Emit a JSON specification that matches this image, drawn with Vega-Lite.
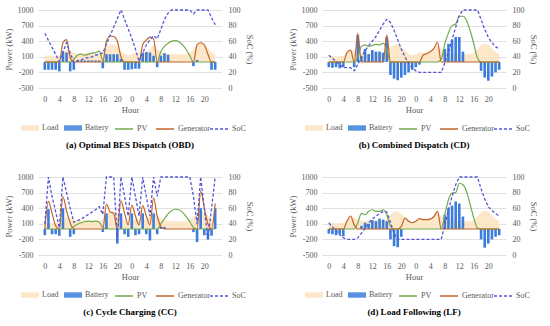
{
  "$schema": "https://vega.github.io/schema/vega-lite/v6.json",
  "padding": {"left": 4, "top": 6, "right": 0, "bottom": 0},
  "datasets": {
    "load": [
      {"h":0,"L":130},{"h":1,"L":120},{"h":2,"L":110},{"h":3,"L":110},{"h":4,"L":120},{"h":5,"L":170},{"h":6,"L":240},{"h":7,"L":220},
      {"h":8,"L":180},{"h":9,"L":160},{"h":10,"L":160},{"h":11,"L":170},{"h":12,"L":170},{"h":13,"L":170},{"h":14,"L":160},{"h":15,"L":160},
      {"h":16,"L":180},{"h":17,"L":280},{"h":18,"L":330},{"h":19,"L":340},{"h":20,"L":300},{"h":21,"L":220},{"h":22,"L":160},{"h":23,"L":130},
      {"h":24,"L":150},{"h":25,"L":190},{"h":26,"L":180},{"h":27,"L":180},{"h":28,"L":190},{"h":29,"L":240},{"h":30,"L":340},{"h":31,"L":250},
      {"h":32,"L":200},{"h":33,"L":170},{"h":34,"L":160},{"h":35,"L":150},{"h":36,"L":150},{"h":37,"L":150},{"h":38,"L":150},{"h":39,"L":150},
      {"h":40,"L":170},{"h":41,"L":240},{"h":42,"L":320},{"h":43,"L":360},{"h":44,"L":330},{"h":45,"L":260},{"h":46,"L":190},{"h":47,"L":150}
    ],
    "a": [
      {"h":0,"B":-150,"V":0,"G":0,"S":70},{"h":1,"B":-150,"V":0,"G":0,"S":61},{"h":2,"B":-150,"V":0,"G":0,"S":52},{"h":3,"B":-150,"V":0,"G":0,"S":43},
      {"h":4,"B":-180,"V":0,"G":0,"S":34},{"h":5,"B":200,"V":0,"G":370,"S":46},{"h":6,"B":180,"V":0,"G":430,"S":58},{"h":7,"B":-180,"V":0,"G":80,"S":45},
      {"h":8,"B":-150,"V":50,"G":0,"S":33},{"h":9,"B":20,"V":130,"G":0,"S":35},{"h":10,"B":30,"V":150,"G":0,"S":36},{"h":11,"B":30,"V":130,"G":0,"S":38},
      {"h":12,"B":30,"V":150,"G":0,"S":39},{"h":13,"B":30,"V":170,"G":0,"S":40},{"h":14,"B":30,"V":180,"G":0,"S":42},{"h":15,"B":30,"V":210,"G":0,"S":43},
      {"h":16,"B":-120,"V":30,"G":0,"S":45},{"h":17,"B":150,"V":0,"G":400,"S":56},{"h":18,"B":150,"V":0,"G":500,"S":67},{"h":19,"B":150,"V":0,"G":490,"S":78},
      {"h":20,"B":150,"V":0,"G":400,"S":89},{"h":21,"B":60,"V":0,"G":100,"S":100},{"h":22,"B":-150,"V":0,"G":0,"S":88},{"h":23,"B":-150,"V":0,"G":0,"S":76},
      {"h":24,"B":-140,"V":0,"G":0,"S":64},{"h":25,"B":-130,"V":0,"G":0,"S":50},{"h":26,"B":-130,"V":0,"G":0,"S":34},{"h":27,"B":180,"V":0,"G":330,"S":45},
      {"h":28,"B":190,"V":0,"G":420,"S":55},{"h":29,"B":180,"V":0,"G":480,"S":62},{"h":30,"B":120,"V":0,"G":450,"S":67},{"h":31,"B":-100,"V":0,"G":0,"S":63},
      {"h":32,"B":120,"V":200,"G":0,"S":75},{"h":33,"B":170,"V":300,"G":0,"S":88},{"h":34,"B":140,"V":360,"G":0,"S":96},{"h":35,"B":0,"V":400,"G":0,"S":100},
      {"h":36,"B":0,"V":410,"G":0,"S":100},{"h":37,"B":0,"V":390,"G":0,"S":100},{"h":38,"B":0,"V":330,"G":0,"S":100},{"h":39,"B":0,"V":240,"G":0,"S":100},
      {"h":40,"B":0,"V":120,"G":0,"S":100},{"h":41,"B":-80,"V":0,"G":0,"S":95},{"h":42,"B":40,"V":0,"G":330,"S":100},{"h":43,"B":0,"V":0,"G":370,"S":100},
      {"h":44,"B":0,"V":0,"G":330,"S":100},{"h":45,"B":0,"V":0,"G":150,"S":100},{"h":46,"B":-150,"V":0,"G":0,"S":90},{"h":47,"B":-150,"V":0,"G":0,"S":81}
    ],
    "b": [
      {"h":0,"B":-100,"V":0,"G":0,"S":42},{"h":1,"B":-110,"V":0,"G":0,"S":38},{"h":2,"B":-100,"V":0,"G":0,"S":34},{"h":3,"B":-120,"V":0,"G":0,"S":30},
      {"h":4,"B":-100,"V":0,"G":0,"S":26},{"h":5,"B":0,"V":0,"G":180,"S":26},{"h":6,"B":0,"V":0,"G":230,"S":26},{"h":7,"B":-100,"V":0,"G":0,"S":22},
      {"h":8,"B":520,"V":100,"G":550,"S":30},{"h":9,"B":100,"V":300,"G":0,"S":40},{"h":10,"B":250,"V":330,"G":0,"S":48},{"h":11,"B":150,"V":300,"G":0,"S":54},
      {"h":12,"B":230,"V":320,"G":0,"S":60},{"h":13,"B":200,"V":340,"G":0,"S":66},{"h":14,"B":200,"V":330,"G":0,"S":74},{"h":15,"B":180,"V":360,"G":0,"S":82},
      {"h":16,"B":480,"V":250,"G":520,"S":88},{"h":17,"B":-250,"V":0,"G":0,"S":84},{"h":18,"B":-320,"V":0,"G":0,"S":74},{"h":19,"B":-350,"V":0,"G":0,"S":62},
      {"h":20,"B":-300,"V":0,"G":0,"S":50},{"h":21,"B":-250,"V":0,"G":0,"S":40},{"h":22,"B":-200,"V":0,"G":0,"S":32},{"h":23,"B":-150,"V":0,"G":0,"S":26},
      {"h":24,"B":-100,"V":0,"G":0,"S":22},{"h":25,"B":-50,"V":0,"G":0,"S":20},{"h":26,"B":0,"V":0,"G":130,"S":20},{"h":27,"B":0,"V":0,"G":160,"S":20},
      {"h":28,"B":0,"V":0,"G":200,"S":20},{"h":29,"B":0,"V":0,"G":260,"S":20},{"h":30,"B":0,"V":0,"G":380,"S":20},{"h":31,"B":0,"V":50,"G":0,"S":20},
      {"h":32,"B":250,"V":350,"G":0,"S":32},{"h":33,"B":350,"V":560,"G":0,"S":46},{"h":34,"B":430,"V":700,"G":0,"S":62},{"h":35,"B":480,"V":730,"G":0,"S":78},
      {"h":36,"B":480,"V":880,"G":0,"S":93},{"h":37,"B":200,"V":880,"G":0,"S":100},{"h":38,"B":0,"V":800,"G":0,"S":100},{"h":39,"B":0,"V":600,"G":0,"S":100},
      {"h":40,"B":0,"V":350,"G":0,"S":100},{"h":41,"B":0,"V":80,"G":0,"S":100},{"h":42,"B":-170,"V":0,"G":0,"S":88},{"h":43,"B":-300,"V":0,"G":0,"S":75},
      {"h":44,"B":-360,"V":0,"G":0,"S":65},{"h":45,"B":-280,"V":0,"G":0,"S":58},{"h":46,"B":-200,"V":0,"G":0,"S":53},{"h":47,"B":-150,"V":0,"G":0,"S":50}
    ],
    "c": [
      {"h":0,"B":-120,"V":0,"G":0,"S":40},{"h":1,"B":380,"V":0,"G":530,"S":100},{"h":2,"B":-100,"V":0,"G":300,"S":75},{"h":3,"B":-100,"V":0,"G":60,"S":55},
      {"h":4,"B":-130,"V":0,"G":0,"S":35},{"h":5,"B":400,"V":0,"G":620,"S":100},{"h":6,"B":0,"V":0,"G":350,"S":80},{"h":7,"B":-150,"V":0,"G":120,"S":60},
      {"h":8,"B":-100,"V":50,"G":0,"S":42},{"h":9,"B":0,"V":90,"G":0,"S":44},{"h":10,"B":0,"V":120,"G":0,"S":46},{"h":11,"B":0,"V":140,"G":0,"S":49},
      {"h":12,"B":0,"V":150,"G":0,"S":52},{"h":13,"B":0,"V":140,"G":0,"S":55},{"h":14,"B":0,"V":150,"G":0,"S":58},{"h":15,"B":0,"V":130,"G":0,"S":62},
      {"h":16,"B":-60,"V":30,"G":0,"S":52},{"h":17,"B":300,"V":0,"G":480,"S":100},{"h":18,"B":0,"V":0,"G":330,"S":100},{"h":19,"B":0,"V":0,"G":300,"S":100},
      {"h":20,"B":-280,"V":0,"G":0,"S":20},{"h":21,"B":300,"V":0,"G":540,"S":100},{"h":22,"B":-100,"V":0,"G":300,"S":75},{"h":23,"B":-150,"V":0,"G":80,"S":50},
      {"h":24,"B":300,"V":0,"G":460,"S":100},{"h":25,"B":-120,"V":0,"G":250,"S":75},{"h":26,"B":-100,"V":0,"G":80,"S":50},{"h":27,"B":300,"V":0,"G":450,"S":100},
      {"h":28,"B":-100,"V":0,"G":250,"S":75},{"h":29,"B":-220,"V":0,"G":80,"S":50},{"h":30,"B":300,"V":0,"G":600,"S":100},{"h":31,"B":-100,"V":0,"G":250,"S":75},
      {"h":32,"B":40,"V":100,"G":50,"S":100},{"h":33,"B":40,"V":200,"G":0,"S":100},{"h":34,"B":0,"V":290,"G":0,"S":100},{"h":35,"B":0,"V":350,"G":0,"S":100},
      {"h":36,"B":0,"V":380,"G":0,"S":100},{"h":37,"B":0,"V":370,"G":0,"S":100},{"h":38,"B":0,"V":320,"G":0,"S":100},{"h":39,"B":0,"V":240,"G":0,"S":100},
      {"h":40,"B":0,"V":140,"G":0,"S":100},{"h":41,"B":-60,"V":30,"G":0,"S":75},{"h":42,"B":-250,"V":0,"G":0,"S":40},{"h":43,"B":400,"V":0,"G":730,"S":100},
      {"h":44,"B":-120,"V":0,"G":400,"S":60},{"h":45,"B":-200,"V":0,"G":100,"S":20},{"h":46,"B":-130,"V":0,"G":0,"S":60},{"h":47,"B":400,"V":0,"G":490,"S":100}
    ],
    "d": [
      {"h":0,"B":-90,"V":0,"G":0,"S":41},{"h":1,"B":-100,"V":0,"G":0,"S":36},{"h":2,"B":-120,"V":0,"G":0,"S":31},{"h":3,"B":-100,"V":0,"G":0,"S":26},
      {"h":4,"B":-140,"V":0,"G":0,"S":22},{"h":5,"B":0,"V":0,"G":150,"S":20},{"h":6,"B":0,"V":0,"G":250,"S":20},{"h":7,"B":0,"V":0,"G":80,"S":20},
      {"h":8,"B":0,"V":115,"G":0,"S":22},{"h":9,"B":60,"V":300,"G":0,"S":28},{"h":10,"B":120,"V":275,"G":0,"S":34},{"h":11,"B":100,"V":340,"G":0,"S":41},
      {"h":12,"B":170,"V":370,"G":0,"S":46},{"h":13,"B":150,"V":340,"G":0,"S":50},{"h":14,"B":200,"V":340,"G":0,"S":53},{"h":15,"B":180,"V":370,"G":0,"S":56},
      {"h":16,"B":150,"V":275,"G":0,"S":55},{"h":17,"B":-200,"V":50,"G":0,"S":42},{"h":18,"B":-330,"V":0,"G":0,"S":28},{"h":19,"B":-350,"V":0,"G":0,"S":20},
      {"h":20,"B":-150,"V":0,"G":50,"S":20},{"h":21,"B":0,"V":0,"G":210,"S":20},{"h":22,"B":0,"V":0,"G":150,"S":20},{"h":23,"B":0,"V":0,"G":120,"S":20},
      {"h":24,"B":0,"V":0,"G":150,"S":20},{"h":25,"B":0,"V":0,"G":200,"S":20},{"h":26,"B":0,"V":0,"G":180,"S":20},{"h":27,"B":0,"V":0,"G":180,"S":20},
      {"h":28,"B":0,"V":0,"G":190,"S":20},{"h":29,"B":0,"V":0,"G":240,"S":20},{"h":30,"B":0,"V":0,"G":340,"S":20},{"h":31,"B":0,"V":0,"G":0,"S":20},
      {"h":32,"B":275,"V":275,"G":0,"S":38},{"h":33,"B":400,"V":560,"G":0,"S":58},{"h":34,"B":450,"V":690,"G":0,"S":75},{"h":35,"B":530,"V":700,"G":0,"S":90},
      {"h":36,"B":490,"V":880,"G":0,"S":100},{"h":37,"B":240,"V":850,"G":0,"S":100},{"h":38,"B":0,"V":720,"G":0,"S":100},{"h":39,"B":0,"V":470,"G":0,"S":100},
      {"h":40,"B":0,"V":210,"G":0,"S":100},{"h":41,"B":0,"V":20,"G":0,"S":100},{"h":42,"B":-200,"V":0,"G":0,"S":85},{"h":43,"B":-360,"V":0,"G":0,"S":72},
      {"h":44,"B":-280,"V":0,"G":0,"S":62},{"h":45,"B":-200,"V":0,"G":0,"S":57},{"h":46,"B":-150,"V":0,"G":0,"S":53},{"h":47,"B":-120,"V":0,"G":0,"S":50}
    ]
  },
  "config": {
    "font": "Liberation Serif",
    "view": {"stroke": null},
    "axis": {"labelFont": "Liberation Serif", "labelFontSize": 8, "labelColor": "#595959", "titleFont": "Liberation Serif", "titleFontSize": 8.5, "titleFontWeight": "normal", "titleColor": "#595959", "domain": false, "ticks": false, "gridColor": "#d9d9d9", "gridWidth": 0.8},
    "legend": {"labelFont": "Liberation Serif", "labelFontSize": 8, "labelColor": "#595959", "title": null, "orient": "none", "direction": "horizontal", "symbolSize": 324, "labelOffset": 3, "columnPadding": 5, "legendY": 109},
    "title": {"font": "Liberation Serif", "fontSize": 9, "fontWeight": "bold", "color": "#000000", "orient": "bottom", "offset": 8, "anchor": "middle"}
  },
  "spacing": 23,
  "resolve": {"scale": {"fill": "independent", "stroke": "independent", "strokeDash": "independent"}},
  "vconcat": [
    {
      "spacing": 35,
      "resolve": {"scale": {"fill": "independent", "stroke": "independent", "strokeDash": "independent"}},
      "hconcat": [
        {
          "width": 184, "height": 78,
          "title": {"text": "(a) Optimal BES Dispatch (OBD)"},
          "encoding": {"x": {"field": "h", "type": "quantitative", "scale": {"domain": [-0.5, 47.5], "nice": false, "zero": false}, "axis": {"values": [0,4,8,12,16,20,24,28,32,36,40,44], "labelExpr": "'' + (datum.value % 24)", "title": "Hour", "grid": false, "labelPadding": 7, "titlePadding": 2}}},
          "layer": [
            {"layer": [
              {"data": {"name": "load"}, "mark": {"type": "area", "opacity": 0.85}, "encoding": {"y": {"field": "L", "type": "quantitative", "scale": {"domain": [-500, 1000], "nice": false}, "axis": {"title": "Power (kW)", "values": [-500,-200,100,400,700,1000], "labelExpr": "'' + datum.value", "grid": true, "labelPadding": 5, "titlePadding": 4}}, "fill": {"datum": "Load", "scale": {"domain": ["Load","Battery"], "range": ["#FCE3BE","#3B7DDD"]}, "legend": {"legendX": -17, "symbolType": "M-1,-0.3H1V0.3H-1Z", "symbolStrokeWidth": 0}}}},
              {"data": {"name": "a"}, "mark": {"type": "bar", "size": 2.6}, "encoding": {"y": {"field": "B", "type": "quantitative", "scale": {"domain": [-500, 1000], "nice": false}, "axis": {"title": "Power (kW)", "values": [-500,-200,100,400,700,1000], "labelExpr": "'' + datum.value", "grid": true, "labelPadding": 5, "titlePadding": 4}}, "fill": {"datum": "Battery"}}},
              {"data": {"name": "a"}, "mark": {"type": "line", "interpolate": "monotone", "strokeWidth": 1.2}, "encoding": {"y": {"field": "V", "type": "quantitative", "scale": {"domain": [-500, 1000], "nice": false}, "axis": {"title": "Power (kW)", "values": [-500,-200,100,400,700,1000], "labelExpr": "'' + datum.value", "grid": true, "labelPadding": 5, "titlePadding": 4}}, "stroke": {"datum": "PV", "scale": {"domain": ["PV","Generator"], "range": ["#72A94F","#C0652B"]}, "legend": {"legendX": 76, "symbolType": "stroke", "symbolStrokeWidth": 1.5}}}},
              {"data": {"name": "a"}, "mark": {"type": "line", "interpolate": "monotone", "strokeWidth": 1.2}, "encoding": {"y": {"field": "G", "type": "quantitative", "scale": {"domain": [-500, 1000], "nice": false}, "axis": {"title": "Power (kW)", "values": [-500,-200,100,400,700,1000], "labelExpr": "'' + datum.value", "grid": true, "labelPadding": 5, "titlePadding": 4}}, "stroke": {"datum": "Generator"}}}
            ]},
            {"data": {"name": "a"}, "mark": {"type": "line", "stroke": "#5555D5", "strokeWidth": 1.3}, "encoding": {"y": {"field": "S", "type": "quantitative", "scale": {"domain": [0, 100], "nice": false}, "axis": {"orient": "right", "title": "SoC (%)", "values": [0,20,40,60,80,100], "grid": false, "labelPadding": 6, "titlePadding": 4}}, "strokeDash": {"datum": "SoC", "scale": {"domain": ["SoC"], "range": [[3, 2]]}, "legend": {"legendX": 171, "symbolType": "stroke", "symbolStrokeWidth": 1.5, "symbolDash": [3, 2], "symbolStrokeColor": "#5555D5"}}}}
          ],
          "resolve": {"scale": {"y": "independent"}}
        },
        {
          "width": 184, "height": 78,
          "title": {"text": "(b) Combined Dispatch (CD)"},
          "encoding": {"x": {"field": "h", "type": "quantitative", "scale": {"domain": [-0.5, 47.5], "nice": false, "zero": false}, "axis": {"values": [0,4,8,12,16,20,24,28,32,36,40,44], "labelExpr": "'' + (datum.value % 24)", "title": "Hour", "grid": false, "labelPadding": 7, "titlePadding": 2}}},
          "layer": [
            {"layer": [
              {"data": {"name": "load"}, "mark": {"type": "area", "opacity": 0.85}, "encoding": {"y": {"field": "L", "type": "quantitative", "scale": {"domain": [-500, 1000], "nice": false}, "axis": {"title": "Power (kW)", "values": [-500,-200,100,400,700,1000], "labelExpr": "'' + datum.value", "grid": true, "labelPadding": 5, "titlePadding": 4}}, "fill": {"datum": "Load", "scale": {"domain": ["Load","Battery"], "range": ["#FCE3BE","#3B7DDD"]}, "legend": {"legendX": -17, "symbolType": "M-1,-0.3H1V0.3H-1Z", "symbolStrokeWidth": 0}}}},
              {"data": {"name": "b"}, "mark": {"type": "bar", "size": 2.6}, "encoding": {"y": {"field": "B", "type": "quantitative", "scale": {"domain": [-500, 1000], "nice": false}, "axis": {"title": "Power (kW)", "values": [-500,-200,100,400,700,1000], "labelExpr": "'' + datum.value", "grid": true, "labelPadding": 5, "titlePadding": 4}}, "fill": {"datum": "Battery"}}},
              {"data": {"name": "b"}, "mark": {"type": "line", "interpolate": "monotone", "strokeWidth": 1.2}, "encoding": {"y": {"field": "V", "type": "quantitative", "scale": {"domain": [-500, 1000], "nice": false}, "axis": {"title": "Power (kW)", "values": [-500,-200,100,400,700,1000], "labelExpr": "'' + datum.value", "grid": true, "labelPadding": 5, "titlePadding": 4}}, "stroke": {"datum": "PV", "scale": {"domain": ["PV","Generator"], "range": ["#72A94F","#C0652B"]}, "legend": {"legendX": 76, "symbolType": "stroke", "symbolStrokeWidth": 1.5}}}},
              {"data": {"name": "b"}, "mark": {"type": "line", "interpolate": "monotone", "strokeWidth": 1.2}, "encoding": {"y": {"field": "G", "type": "quantitative", "scale": {"domain": [-500, 1000], "nice": false}, "axis": {"title": "Power (kW)", "values": [-500,-200,100,400,700,1000], "labelExpr": "'' + datum.value", "grid": true, "labelPadding": 5, "titlePadding": 4}}, "stroke": {"datum": "Generator"}}}
            ]},
            {"data": {"name": "b"}, "mark": {"type": "line", "stroke": "#5555D5", "strokeWidth": 1.3}, "encoding": {"y": {"field": "S", "type": "quantitative", "scale": {"domain": [0, 100], "nice": false}, "axis": {"orient": "right", "title": "SoC (%)", "values": [0,20,40,60,80,100], "grid": false, "labelPadding": 6, "titlePadding": 4}}, "strokeDash": {"datum": "SoC", "scale": {"domain": ["SoC"], "range": [[3, 2]]}, "legend": {"legendX": 171, "symbolType": "stroke", "symbolStrokeWidth": 1.5, "symbolDash": [3, 2], "symbolStrokeColor": "#5555D5"}}}}
          ],
          "resolve": {"scale": {"y": "independent"}}
        }
      ]
    },
    {
      "spacing": 35,
      "resolve": {"scale": {"fill": "independent", "stroke": "independent", "strokeDash": "independent"}},
      "hconcat": [
        {
          "width": 184, "height": 78,
          "title": {"text": "(c) Cycle Charging (CC)"},
          "encoding": {"x": {"field": "h", "type": "quantitative", "scale": {"domain": [-0.5, 47.5], "nice": false, "zero": false}, "axis": {"values": [0,4,8,12,16,20,24,28,32,36,40,44], "labelExpr": "'' + (datum.value % 24)", "title": "Hour", "grid": false, "labelPadding": 7, "titlePadding": 2}}},
          "layer": [
            {"layer": [
              {"data": {"name": "load"}, "mark": {"type": "area", "opacity": 0.85}, "encoding": {"y": {"field": "L", "type": "quantitative", "scale": {"domain": [-500, 1000], "nice": false}, "axis": {"title": "Power (kW)", "values": [-500,-200,100,400,700,1000], "labelExpr": "'' + datum.value", "grid": true, "labelPadding": 5, "titlePadding": 4}}, "fill": {"datum": "Load", "scale": {"domain": ["Load","Battery"], "range": ["#FCE3BE","#3B7DDD"]}, "legend": {"legendX": -17, "symbolType": "M-1,-0.3H1V0.3H-1Z", "symbolStrokeWidth": 0}}}},
              {"data": {"name": "c"}, "mark": {"type": "bar", "size": 2.6}, "encoding": {"y": {"field": "B", "type": "quantitative", "scale": {"domain": [-500, 1000], "nice": false}, "axis": {"title": "Power (kW)", "values": [-500,-200,100,400,700,1000], "labelExpr": "'' + datum.value", "grid": true, "labelPadding": 5, "titlePadding": 4}}, "fill": {"datum": "Battery"}}},
              {"data": {"name": "c"}, "mark": {"type": "line", "interpolate": "monotone", "strokeWidth": 1.2}, "encoding": {"y": {"field": "V", "type": "quantitative", "scale": {"domain": [-500, 1000], "nice": false}, "axis": {"title": "Power (kW)", "values": [-500,-200,100,400,700,1000], "labelExpr": "'' + datum.value", "grid": true, "labelPadding": 5, "titlePadding": 4}}, "stroke": {"datum": "PV", "scale": {"domain": ["PV","Generator"], "range": ["#72A94F","#C0652B"]}, "legend": {"legendX": 76, "symbolType": "stroke", "symbolStrokeWidth": 1.5}}}},
              {"data": {"name": "c"}, "mark": {"type": "line", "interpolate": "monotone", "strokeWidth": 1.2}, "encoding": {"y": {"field": "G", "type": "quantitative", "scale": {"domain": [-500, 1000], "nice": false}, "axis": {"title": "Power (kW)", "values": [-500,-200,100,400,700,1000], "labelExpr": "'' + datum.value", "grid": true, "labelPadding": 5, "titlePadding": 4}}, "stroke": {"datum": "Generator"}}}
            ]},
            {"data": {"name": "c"}, "mark": {"type": "line", "stroke": "#5555D5", "strokeWidth": 1.3}, "encoding": {"y": {"field": "S", "type": "quantitative", "scale": {"domain": [0, 100], "nice": false}, "axis": {"orient": "right", "title": "SoC (%)", "values": [0,20,40,60,80,100], "grid": false, "labelPadding": 6, "titlePadding": 4}}, "strokeDash": {"datum": "SoC", "scale": {"domain": ["SoC"], "range": [[3, 2]]}, "legend": {"legendX": 171, "symbolType": "stroke", "symbolStrokeWidth": 1.5, "symbolDash": [3, 2], "symbolStrokeColor": "#5555D5"}}}}
          ],
          "resolve": {"scale": {"y": "independent"}}
        },
        {
          "width": 184, "height": 78,
          "title": {"text": "(d) Load Following (LF)"},
          "encoding": {"x": {"field": "h", "type": "quantitative", "scale": {"domain": [-0.5, 47.5], "nice": false, "zero": false}, "axis": {"values": [0,4,8,12,16,20,24,28,32,36,40,44], "labelExpr": "'' + (datum.value % 24)", "title": "Hour", "grid": false, "labelPadding": 7, "titlePadding": 2}}},
          "layer": [
            {"layer": [
              {"data": {"name": "load"}, "mark": {"type": "area", "opacity": 0.85}, "encoding": {"y": {"field": "L", "type": "quantitative", "scale": {"domain": [-500, 1000], "nice": false}, "axis": {"title": "Power (kW)", "values": [-500,-200,100,400,700,1000], "labelExpr": "'' + datum.value", "grid": true, "labelPadding": 5, "titlePadding": 4}}, "fill": {"datum": "Load", "scale": {"domain": ["Load","Battery"], "range": ["#FCE3BE","#3B7DDD"]}, "legend": {"legendX": -17, "symbolType": "M-1,-0.3H1V0.3H-1Z", "symbolStrokeWidth": 0}}}},
              {"data": {"name": "d"}, "mark": {"type": "bar", "size": 2.6}, "encoding": {"y": {"field": "B", "type": "quantitative", "scale": {"domain": [-500, 1000], "nice": false}, "axis": {"title": "Power (kW)", "values": [-500,-200,100,400,700,1000], "labelExpr": "'' + datum.value", "grid": true, "labelPadding": 5, "titlePadding": 4}}, "fill": {"datum": "Battery"}}},
              {"data": {"name": "d"}, "mark": {"type": "line", "interpolate": "monotone", "strokeWidth": 1.2}, "encoding": {"y": {"field": "V", "type": "quantitative", "scale": {"domain": [-500, 1000], "nice": false}, "axis": {"title": "Power (kW)", "values": [-500,-200,100,400,700,1000], "labelExpr": "'' + datum.value", "grid": true, "labelPadding": 5, "titlePadding": 4}}, "stroke": {"datum": "PV", "scale": {"domain": ["PV","Generator"], "range": ["#72A94F","#C0652B"]}, "legend": {"legendX": 76, "symbolType": "stroke", "symbolStrokeWidth": 1.5}}}},
              {"data": {"name": "d"}, "mark": {"type": "line", "interpolate": "monotone", "strokeWidth": 1.2}, "encoding": {"y": {"field": "G", "type": "quantitative", "scale": {"domain": [-500, 1000], "nice": false}, "axis": {"title": "Power (kW)", "values": [-500,-200,100,400,700,1000], "labelExpr": "'' + datum.value", "grid": true, "labelPadding": 5, "titlePadding": 4}}, "stroke": {"datum": "Generator"}}}
            ]},
            {"data": {"name": "d"}, "mark": {"type": "line", "stroke": "#5555D5", "strokeWidth": 1.3}, "encoding": {"y": {"field": "S", "type": "quantitative", "scale": {"domain": [0, 100], "nice": false}, "axis": {"orient": "right", "title": "SoC (%)", "values": [0,20,40,60,80,100], "grid": false, "labelPadding": 6, "titlePadding": 4}}, "strokeDash": {"datum": "SoC", "scale": {"domain": ["SoC"], "range": [[3, 2]]}, "legend": {"legendX": 171, "symbolType": "stroke", "symbolStrokeWidth": 1.5, "symbolDash": [3, 2], "symbolStrokeColor": "#5555D5"}}}}
          ],
          "resolve": {"scale": {"y": "independent"}}
        }
      ]
    }
  ]
}
